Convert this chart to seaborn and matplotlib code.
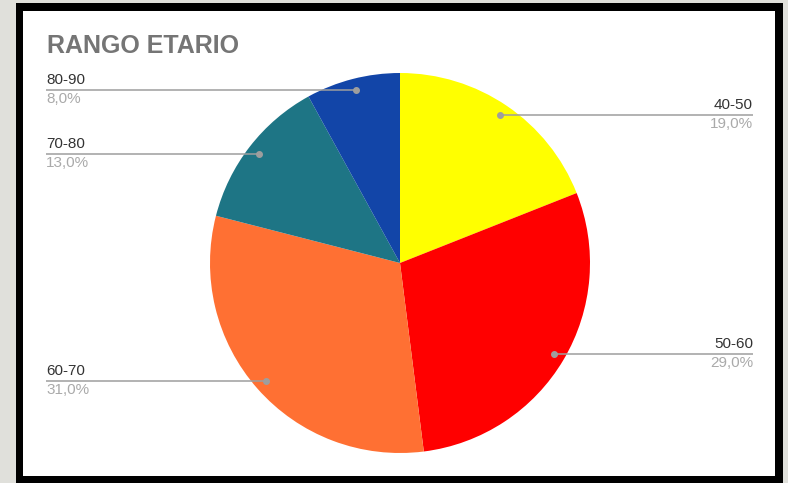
import numpy as np
import matplotlib
matplotlib.use("Agg")
import matplotlib.pyplot as plt
from matplotlib.patches import Rectangle
import seaborn as sns

sns.set_theme(style="white")
plt.rcParams['font.family'] = ['Liberation Sans', 'DejaVu Sans']

title = "RANGO ETARIO"
categories = ["40-50", "50-60", "60-70", "70-80", "80-90"]
values = [19.0, 29.0, 31.0, 13.0, 8.0]
colors = ["#FFFF00", "#FF0000", "#FF7033", "#1E7585", "#1245A8"]

W, H = 788, 483
fig = plt.figure(figsize=(W / 100, H / 100), dpi=100)
fig.patch.set_facecolor("#E0E0DB")
ax = fig.add_axes([0, 0, 1, 1])
ax.set_xlim(0, W)
ax.set_ylim(0, H)
ax.axis("off")

def Y(y):
    return H - y

# frame
ax.add_patch(Rectangle((16, Y(483)), 767, 480, facecolor="black", edgecolor="none", zorder=0))
ax.add_patch(Rectangle((23, Y(476)), 752, 465, facecolor="white", edgecolor="none", zorder=1))

cx, cy, R = 400, Y(263), 190
wedges, _ = ax.pie(values, colors=colors, startangle=90, counterclock=False,
                   center=(cx, cy), radius=R, wedgeprops=dict(linewidth=0, zorder=2),
                   frame=True)
ax.set_xlim(0, W)
ax.set_ylim(0, H)
ax.set_aspect("equal")
ax.axis("off")

for w, lab, v in zip(wedges, categories, values):
    ang = np.deg2rad((w.theta1 + w.theta2) / 2)
    dx, dy = cx + 0.94 * R * np.cos(ang), cy + 0.94 * R * np.sin(ang)
    if dx > cx:
        xe, ha = 753, "right"
    else:
        xe, ha = 46, "left"
    ax.plot([xe, dx], [dy, dy], color="#9E9E9E", lw=1.1, zorder=3, solid_capstyle="butt")
    ax.plot([dx], [dy], marker="o", ms=4, color="#9E9E9E", zorder=4)
    ax.text(xe, dy + 3, lab, ha=ha, va="bottom", fontsize=11, color="#333333", zorder=5)
    ax.text(xe, dy - 2, f"{v:.1f}%".replace(".", ","), ha=ha, va="top", fontsize=11,
            color="#AAAAAA", zorder=5)

ax.text(47, Y(53), title, ha="left", va="baseline", fontsize=18, fontweight="bold",
        color="#757575", zorder=5)

fig.savefig("out.png", dpi=100, facecolor=fig.get_facecolor())
